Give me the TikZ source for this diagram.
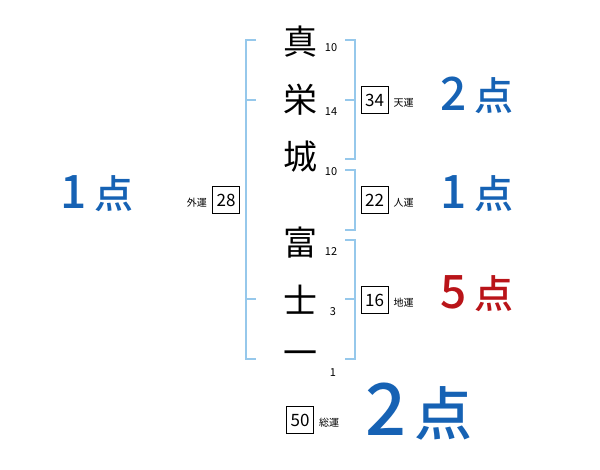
\documentclass[tikz,border=0pt]{standalone}
\usepackage{fontspec}
\usetikzlibrary{positioning}
\newfontfamily\jp{Noto Sans CJK JP}
\newfontfamily\jpbold{Noto Sans CJK JP Medium}
\definecolor{brk}{RGB}{150,200,235}
\definecolor{ptblue}{RGB}{22,98,180}
\definecolor{ptred}{RGB}{185,20,25}
\tikzset{
  kanji/.style={font=\jp\fontsize{34}{34}\selectfont, inner sep=0pt},
  strokes/.style={font=\jp\fontsize{11}{11}\selectfont, inner sep=1pt},
  numbox/.style={draw, line width=0.8pt, font=\jp\fontsize{17}{17}\selectfont,
    minimum width=27pt, minimum height=27pt, inner sep=0pt},
  unit/.style={font=\jp\fontsize{10}{10}\selectfont, inner sep=1pt},
  score/.style={font=\jpbold\fontsize{39}{39}\selectfont, inner sep=0pt},
  brace/.style={brk, line width=1.5pt}
}
\newcommand\pts[2]{{\fontsize{#2}{#2}\selectfont #1}\hspace{8pt}点}
\begin{document}
\begin{tikzpicture}[x=1pt, y=-1pt]
  \useasboundingbox (0,0) rectangle (600,470);
  % name characters and stroke counts
  \node[kanji] (c1) at (300,42) {真};
  \node[kanji] (c2) at (300,100) {栄};
  \node[kanji] (c3) at (300,157) {城};
  \node[kanji] (c4) at (300,243) {富};
  \node[kanji] (c5) at (300,300) {士};
  \node[kanji] (c6) at (300,358) {一};
  \node[strokes] (s1) at (331,48) {10};
  \node[strokes] (s2) at (331,112) {14};
  \node[strokes] (s3) at (331,172) {10};
  \node[strokes] (s4) at (331,252) {12};
  \node[strokes] (s5) at (333,312) {3};
  \node[strokes] (s6) at (333,373) {1};
  % brackets
  \draw[brace] (256,40) -- (246,40) -- (246,359) -- (256,359);
  \draw[brace] (246,100) -- (256,100);
  \draw[brace] (246,299) -- (256,299);
  \draw[brace] (345,40) -- (355,40) -- (355,159) -- (345,159);
  \draw[brace] (345,100) -- (355,100);
  \draw[brace] (345,170) -- (355,170) -- (355,230) -- (345,230);
  \draw[brace] (345,240) -- (355,240) -- (355,359) -- (345,359);
  \draw[brace] (345,299) -- (355,299);
  % totals
  \node[numbox] (ten) at (374.5,100) {34};
  \node[unit, right=4pt of ten, yshift=-3pt] (tenl) {天運};
  \node[numbox] (jin) at (374.5,200) {22};
  \node[unit, right=4pt of jin, yshift=-3pt] (jinl) {人運};
  \node[numbox] (chi) at (374.5,300) {16};
  \node[unit, right=4pt of chi, yshift=-3pt] (chil) {地運};
  \node[numbox] (gai) at (226,200) {28};
  \node[unit, left=4pt of gai, yshift=-3pt] (gail) {外運};
  \node[numbox] (sou) at (300,420) {50};
  \node[unit, right=4pt of sou, yshift=-3pt] (soul) {総運};
  % scores
  \node[score, ptblue] (p1) at (477,95) {\pts{2}{46}};
  \node[score, ptblue] (p2) at (477,194) {\pts{1}{46}};
  \node[score, ptred] (p3) at (477,294) {\pts{5}{46}};
  \node[score, ptblue] (p4) at (97,194) {\pts{1}{46}};
  \node[score, ptblue, font=\jpbold\fontsize{58}{58}\selectfont] (p5) at (419,412) {\pts{2}{72}};
\end{tikzpicture}
\end{document}
